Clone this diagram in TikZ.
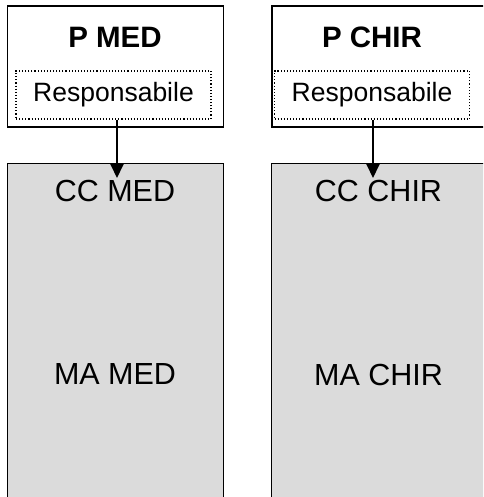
\documentclass[tikz,border=0pt]{standalone}
\usepackage{fontspec}
\setmainfont{Liberation Sans}
\usetikzlibrary{arrows.meta}
\begin{document}
\begin{tikzpicture}[x=1pt,y=-1pt,
  headbox/.style={draw, line width=1.8pt, fill=white, minimum width=216pt, minimum height=121pt, inner sep=0pt, anchor=north west},
  respbox/.style={draw, dotted, line width=1.1pt, minimum width=195pt, minimum height=48pt, inner sep=0pt, font=\fontsize{26.5}{28}\selectfont},
  unitbox/.style={draw, line width=1.9pt, fill=black!14, minimum width=216pt, minimum height=360pt, inner sep=0pt, anchor=north west},
  title/.style={font=\fontsize{29.5}{32}\selectfont\bfseries, inner sep=0pt},
  label/.style={font=\fontsize{30.5}{33}\selectfont, inner sep=0pt},
  link/.style={line width=1.8pt, -{Triangle[length=15pt,width=14pt]}}]
\useasboundingbox (0,0) rectangle (483,497);
\clip (0,0) rectangle (483,497);

% lower units
\node[unitbox] (ua) at (6.5,162.5) {};
\node[unitbox] (ub) at (270.5,162.5) {};
\node[label] (cca) at (115,191) {CC MED};
\node[label] (ccb) at (378.5,191) {CC CHIR};
\node[label] (maa) at (115,374.5) {MA MED};
\node[label] (mab) at (378.5,374.5) {MA CHIR};

% upper boxes
\node[headbox] (pa) at (6.5,5.5) {};
\node[headbox] (pb) at (271,5.5) {};
\node[title] (ta) at (115,37.5) {P MED};
\node[title] (tb) at (372,37.5) {P CHIR};
\node[respbox] (ra) at (113.5,95) {Responsabile};
\node[respbox] (rb) at (372,95) {Responsabile};

% links
\coordinate (ea) at (117,178);
\coordinate (eb) at (373,178);
\draw[link] (ra.south -| ea) -- (ea);
\draw[link] (rb.south -| eb) -- (eb);
\end{tikzpicture}
\end{document}
